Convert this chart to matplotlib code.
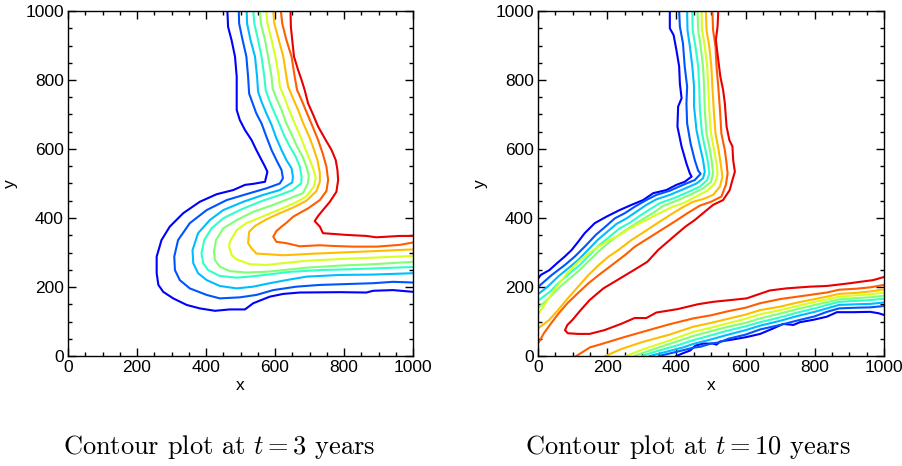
import matplotlib
matplotlib.use('Agg')
import matplotlib.pyplot as plt
import matplotlib.ticker as mtick
import numpy as np

plt.rcParams['font.family'] = ['Liberation Sans', 'DejaVu Sans']
plt.rcParams['mathtext.fontset'] = 'cm'

# ------------------------------------------------------------
# contour lines, (x, y) in metres
# nine levels, low (blue) -> high (red)
# ------------------------------------------------------------

# t = 3 years
t3_l1 = [(462, 1000), (464, 954), (474, 916), (484, 868), (489, 810), (489, 752), (489, 713), (498, 684),
         (513, 655), (532, 626), (546, 597), (561, 568), (571, 549), (578, 534), (571, 505), (537, 499),
         (513, 496), (479, 481), (431, 469), (382, 447), (334, 414), (295, 375), (271, 336), (257, 288),
         (257, 240), (262, 206), (276, 186), (305, 167), (344, 148), (382, 138), (426, 131), (469, 135),
         (513, 135), (537, 153), (585, 172), (624, 180), (672, 184), (788, 185), (865, 184), (884, 189),
         (942, 191), (1000, 186)]
t3_l2 = [(495, 1000), (496, 964), (506, 916), (517, 868), (522, 810), (525, 761), (535, 733), (546, 703),
         (561, 674), (575, 636), (590, 597), (604, 568), (619, 539), (623, 515), (614, 500), (575, 486),
         (527, 472), (460, 452), (402, 423), (353, 385), (319, 336), (308, 288), (310, 249), (324, 220),
         (353, 196), (402, 177), (440, 167), (498, 170), (546, 177), (595, 191), (662, 201), (730, 206),
         (884, 211), (942, 215), (1000, 213)]
t3_l3 = [(518, 1000), (519, 964), (529, 916), (542, 868), (548, 810), (551, 766), (561, 737), (575, 703),
         (590, 670), (604, 631), (619, 597), (633, 568), (648, 544), (652, 520), (650, 503), (614, 481),
         (566, 467), (508, 447), (450, 423), (411, 394), (377, 356), (361, 307), (363, 269), (377, 240),
         (402, 220), (440, 203), (489, 196), (537, 201), (585, 211), (633, 220), (691, 230), (788, 235),
         (884, 236), (1000, 240)]
t3_l4 = [(537, 1000), (540, 964), (551, 916), (561, 868), (569, 810), (573, 771), (583, 742), (595, 713),
         (612, 674), (628, 636), (643, 607), (660, 578), (672, 549), (677, 520), (676, 501), (652, 481),
         (614, 467), (556, 447), (498, 423), (450, 399), (416, 370), (395, 336), (387, 298), (392, 269),
         (406, 249), (440, 232), (489, 227), (546, 232), (595, 238), (643, 244), (730, 249), (836, 252),
         (1000, 258)]
t3_l5 = [(556, 1000), (559, 964), (571, 916), (580, 868), (590, 810), (593, 776), (604, 747), (619, 713),
         (633, 674), (651, 636), (664, 607), (680, 578), (691, 549), (698, 522), (695, 500), (681, 472),
         (643, 457), (595, 438), (537, 418), (489, 394), (450, 370), (429, 336), (423, 302), (426, 278),
         (440, 259), (469, 246), (517, 242), (575, 244), (624, 249), (691, 256), (788, 262), (884, 266),
         (1000, 273)]
t3_l6 = [(575, 1000), (578, 964), (590, 916), (601, 868), (611, 810), (614, 781), (626, 752), (641, 713),
         (657, 674), (674, 636), (689, 597), (701, 568), (712, 539), (718, 515), (712, 490), (690, 462),
         (660, 445), (614, 425), (556, 401), (517, 385), (489, 365), (469, 331), (467, 317), (474, 293),
         (489, 280), (527, 266), (575, 264), (633, 270), (691, 276), (788, 281), (884, 285), (1000, 290)]
t3_l7 = [(595, 1000), (598, 964), (611, 916), (624, 868), (633, 810), (638, 781), (650, 752), (667, 713),
         (682, 674), (699, 636), (710, 607), (723, 568), (730, 530), (730, 505), (720, 478), (691, 450),
         (652, 430), (614, 414), (575, 396), (542, 377), (525, 360), (522, 327), (532, 312), (546, 297),
         (624, 292), (700, 296), (768, 299), (865, 303), (1000, 309)]
t3_l8 = [(617, 1000), (621, 964), (633, 916), (648, 868), (657, 810), (664, 771), (677, 742), (693, 703),
         (709, 665), (725, 626), (738, 588), (749, 549), (754, 510), (749, 478), (730, 452), (696, 428),
         (653, 404), (633, 386), (619, 375), (604, 362), (595, 346), (604, 331), (633, 327), (672, 318),
         (730, 321), (768, 319), (826, 317), (894, 317), (961, 322), (1000, 329)]
t3_l9 = [(645, 1000), (646, 954), (651, 906), (655, 868), (667, 829), (677, 800), (686, 771), (696, 732),
         (709, 703), (725, 665), (747, 626), (764, 597), (776, 568), (781, 539), (783, 510), (778, 476),
         (759, 447), (739, 423), (725, 406), (715, 391), (730, 375), (739, 356), (807, 351), (865, 348),
         (894, 344), (961, 348), (1000, 348)]

# t = 10 years, upper plume
t10_l1 = [(381, 1000), (381, 950), (392, 930), (400, 887), (408, 839), (410, 790), (415, 747), (405, 723),
          (403, 665), (415, 607), (429, 558), (439, 529), (444, 520), (424, 505), (400, 496), (371, 481),
          (333, 472), (304, 452), (270, 438), (236, 423), (198, 404), (164, 385), (135, 356), (116, 331),
          (97, 307), (77, 288), (55, 269), (33, 249), (8, 235), (0, 224)]
t10_l2 = [(408, 1000), (410, 955), (419, 906), (424, 839), (431, 781), (429, 732), (431, 674), (441, 616),
          (453, 568), (463, 537), (470, 528), (453, 510), (419, 496), (381, 479), (342, 467), (313, 452),
          (280, 433), (251, 414), (222, 399), (195, 375), (167, 351), (135, 317), (106, 288), (78, 264),
          (40, 235), (0, 200)]
t10_l3 = [(431, 1000), (432, 945), (439, 897), (446, 839), (451, 781), (451, 723), (458, 655), (468, 607),
          (477, 568), (482, 534), (477, 515), (458, 500), (419, 483), (381, 467), (342, 454), (313, 438),
          (284, 418), (256, 399), (227, 383), (200, 360), (172, 336), (144, 307), (116, 278), (87, 254),
          (58, 230), (28, 201), (0, 179)]
t10_l4 = [(446, 1000), (447, 945), (455, 897), (463, 839), (466, 781), (468, 713), (474, 645), (484, 597),
          (492, 558), (495, 529), (489, 510), (468, 491), (429, 473), (391, 457), (352, 443), (323, 425),
          (294, 406), (265, 386), (236, 370), (207, 346), (178, 322), (149, 293), (121, 264), (92, 240),
          (63, 215), (34, 186), (0, 160)]
t10_l5 = [(461, 1000), (463, 945), (470, 897), (477, 839), (480, 781), (482, 713), (487, 645), (497, 597),
          (503, 558), (506, 529), (500, 505), (477, 486), (439, 467), (400, 450), (362, 435), (333, 415),
          (302, 396), (272, 377), (242, 357), (211, 334), (179, 307), (149, 278), (120, 249), (92, 225),
          (64, 201), (36, 172), (10, 148), (0, 140)]
t10_l6 = [(473, 1000), (474, 945), (482, 897), (489, 839), (492, 781), (495, 713), (500, 645), (509, 597),
          (516, 558), (519, 525), (511, 500), (489, 479), (453, 460), (420, 443), (390, 433), (351, 414),
          (313, 394), (274, 375), (236, 351), (197, 331), (160, 307), (122, 278), (84, 240), (54, 201),
          (28, 162), (0, 120)]
t10_l7 = [(485, 1000), (487, 945), (495, 897), (501, 839), (504, 781), (508, 713), (513, 645), (522, 597),
          (528, 558), (533, 520), (526, 491), (506, 467), (478, 455), (448, 447), (418, 431), (382, 409),
          (345, 385), (307, 360), (270, 336), (232, 307), (204, 288), (176, 264), (146, 235), (116, 201),
          (86, 167), (58, 133), (32, 104), (0, 80)]
t10_l8 = [(504, 1000), (506, 945), (513, 897), (516, 839), (521, 781), (526, 713), (530, 645), (540, 597),
          (545, 558), (548, 529), (543, 496), (530, 462), (500, 447), (468, 436), (432, 414), (394, 389),
          (356, 365), (318, 341), (280, 317), (252, 293), (214, 264), (176, 235), (146, 211), (115, 182),
          (85, 153), (60, 124), (38, 95), (17, 66), (6, 46), (0, 37)]
# highest level: one line that runs down the plume, loops near x=80 and back along the lower band
t10_l9 = [(521, 1000), (519, 955), (514, 916), (521, 858), (527, 810), (535, 771), (540, 732), (545, 665),
          (553, 626), (562, 607), (564, 568), (569, 534), (562, 510), (554, 481), (535, 452), (506, 438),
          (477, 414), (453, 394), (426, 375), (392, 346), (347, 307), (316, 273), (277, 249), (229, 220),
          (189, 196), (149, 162), (119, 128), (99, 104), (85, 90), (78, 75), (86, 66), (115, 64),
          (149, 64), (192, 75), (240, 93), (279, 110), (313, 110), (342, 126), (404, 136), (462, 150),
          (506, 157), (555, 162), (603, 167), (632, 177), (670, 190), (718, 196), (786, 201), (835, 203),
          (902, 211), (931, 215), (969, 220), (1000, 229)]

# t = 10 years, lower band
t10_b1 = [(400, 0), (419, 8), (440, 16), (455, 30), (477, 36), (506, 36), (516, 33), (526, 42), (564, 48),
          (603, 55), (642, 64), (680, 80), (709, 93), (738, 90), (757, 98), (796, 105), (835, 114),
          (864, 127), (912, 127), (960, 128), (984, 124), (1000, 119)]
t10_b2 = [(350, 0), (400, 12), (449, 24), (470, 27), (500, 36), (526, 40), (550, 50), (600, 62), (642, 77),
          (700, 90), (750, 103), (800, 115), (835, 128), (870, 138), (920, 140), (960, 141), (1000, 145)]
t10_b3 = [(323, 0), (370, 12), (420, 25), (449, 35), (500, 48), (550, 62), (600, 75), (642, 88), (700, 102),
          (750, 116), (800, 128), (835, 138), (870, 148), (920, 150), (960, 151), (1000, 155)]
t10_b4 = [(300, 0), (340, 13), (400, 30), (449, 46), (500, 60), (550, 74), (600, 86), (642, 98), (700, 112),
          (750, 126), (800, 138), (835, 148), (870, 157), (920, 160), (960, 162), (1000, 166)]
t10_b5 = [(278, 0), (320, 15), (380, 35), (449, 58), (500, 72), (550, 85), (600, 96), (642, 109), (700, 123),
          (750, 136), (800, 148), (835, 156), (870, 164), (920, 168), (960, 170), (1000, 175)]
t10_b6 = [(255, 0), (300, 18), (380, 45), (449, 70), (500, 82), (550, 95), (600, 108), (642, 121),
          (700, 133), (750, 145), (800, 157), (835, 164), (870, 172), (920, 176), (960, 179), (1000, 184)]
t10_b7 = [(195, 0), (240, 20), (300, 40), (380, 62), (449, 85), (500, 96), (550, 108), (600, 120),
          (642, 133), (700, 143), (750, 155), (800, 165), (835, 172), (870, 180), (920, 183), (960, 187),
          (1000, 193)]
t10_b8 = [(111, 0), (150, 25), (178, 33), (250, 55), (320, 75), (380, 92), (449, 109), (500, 118),
          (550, 130), (600, 140), (642, 153), (700, 165), (750, 172), (835, 184), (870, 192), (920, 195),
          (960, 199), (1000, 206)]

t3_lines = [t3_l1, t3_l2, t3_l3, t3_l4, t3_l5, t3_l6, t3_l7, t3_l8, t3_l9]
t10_upper = [t10_l1, t10_l2, t10_l3, t10_l4, t10_l5, t10_l6, t10_l7, t10_l8, t10_l9]
t10_lower = [t10_b1, t10_b2, t10_b3, t10_b4, t10_b5, t10_b6, t10_b7, t10_b8]

captions = ['Contour plot at $t = 3$ years', 'Contour plot at $t = 10$ years']

# jet colours for the 9 levels, pure blue .. pure red
level_colors = plt.cm.jet(np.linspace(0.11, 0.91, 9))

fig = plt.figure(figsize=(9.02, 4.66), dpi=100)
ax1 = fig.add_axes([68 / 902, 110 / 466, 345 / 902, 345 / 466])
ax2 = fig.add_axes([538 / 902, 110 / 466, 346 / 902, 345 / 466])


def draw_lines(ax, lines, colors):
    for pts, c in zip(lines, colors):
        arr = np.array(pts, dtype=float)
        ax.plot(arr[:, 0], arr[:, 1], color=c, lw=1.5, solid_joinstyle='round')


draw_lines(ax1, t3_lines, level_colors)
draw_lines(ax2, t10_upper, level_colors)
draw_lines(ax2, t10_lower, level_colors[:8])

for ax in (ax1, ax2):
    ax.set_xlim(0, 1000)
    ax.set_ylim(0, 1000)
    ax.xaxis.set_major_locator(mtick.MultipleLocator(200))
    ax.yaxis.set_major_locator(mtick.MultipleLocator(200))
    ax.xaxis.set_minor_locator(mtick.MultipleLocator(50))
    ax.yaxis.set_minor_locator(mtick.MultipleLocator(50))
    ax.tick_params(which='both', direction='in', top=True, right=True, width=1.0, labelsize=12.5, pad=3)
    ax.tick_params(which='major', length=6)
    ax.tick_params(which='minor', length=3)
    for sp in ax.spines.values():
        sp.set_linewidth(1.0)
    ax.set_xlabel('x', fontsize=12.5, labelpad=2)
    ax.set_ylabel('y', fontsize=12.5, labelpad=5)

fig.text(219 / 902, 1 - 447 / 466, captions[0], ha='center', va='center',
         fontsize=19, family='cmr10')
fig.text(688 / 902, 1 - 447 / 466, captions[1], ha='center', va='center',
         fontsize=19, family='cmr10')

fig.savefig('out.png', dpi=100)
